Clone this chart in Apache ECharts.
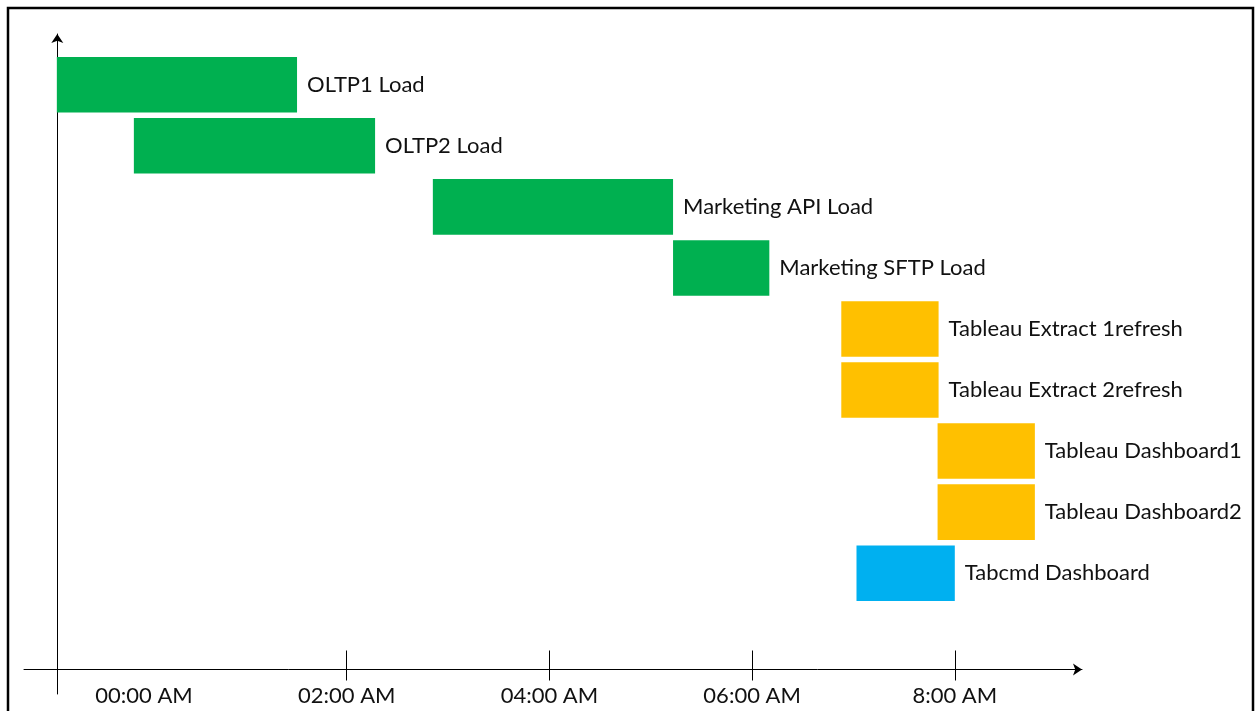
<!DOCTYPE html>
<html>
<head>
<meta charset="utf-8">
<script src="https://cdn.jsdelivr.net/npm/echarts@6/dist/echarts.min.js"></script>
<style>
    html, body { margin: 0; padding: 0; background: #fff; }
    #chart { width: 1258px; height: 711px; }
</style>
</head>
<body>
<div id="chart"></div>
<script>
// task names, top to bottom
var tasks = ['OLTP1 Load', 'OLTP2 Load', 'Marketing API Load', 'Marketing SFTP Load',
    'Tableau Extract 1refresh', 'Tableau Extract 2refresh', 'Tableau Dashboard1',
    'Tableau Dashboard2', 'Tabcmd Dashboard'];
// start / end in hours after midnight
var startHours = [-0.86, -0.10, 2.85, 5.22, 6.88, 6.88, 7.83, 7.83, 7.03];
var endHours = [1.51, 2.28, 5.22, 6.17, 7.84, 7.84, 8.79, 8.79, 8.00];
var groups = ['load', 'load', 'load', 'load', 'refresh', 'refresh', 'refresh', 'refresh', 'tabcmd'];
// axis
var tickHours = [2, 4, 6, 8];
var labelHours = [0, 2, 4, 6, 8];
var timeLabels = ['00:00 AM', '02:00 AM', '04:00 AM', '06:00 AM', '8:00 AM'];

var groupColors = {
    load: '#00b050',
    refresh: '#ffc000',
    tabcmd: '#00b0f0'
};

var data = [];
for (var i = 0; i < tasks.length; i++) {
    data.push({
        value: [startHours[i], endHours[i], i],
        itemStyle: { color: groupColors[groups[i]] }
    });
}

function renderItem(params, api) {
    var p0 = api.coord([api.value(0), api.value(2)]);
    var p1 = api.coord([api.value(1), api.value(2)]);
    var h = api.size([0, 1])[1] * 0.91;
    return {
        type: 'group',
        children: [{
            type: 'rect',
            shape: { x: p0[0], y: p0[1] - h / 2, width: p1[0] - p0[0], height: h },
            style: { fill: api.visual('color') }
        }, {
            type: 'text',
            style: {
                text: tasks[params.dataIndex],
                x: p1[0] + 10,
                y: p1[1],
                align: 'left',
                verticalAlign: 'middle',
                fill: '#111',
                font: '22px Lato'
            }
        }]
    };
}

var myChart = echarts.init(document.getElementById('chart'));
var option = {
    backgroundColor: '#fff',
    animation: false,
    graphic: [{
        type: 'rect',
        shape: { x: 8, y: 8, width: 1245, height: 760 },
        style: { fill: 'none', stroke: '#000', lineWidth: 2.5 },
        silent: true
    }],
    grid: {
        left: 24,
        right: 176,
        top: 34,
        bottom: 17
    },
    xAxis: [{
        type: 'value',
        position: 'bottom',
        min: -1.184,
        max: 9.255,
        offset: -24.5,
        splitLine: { show: false },
        axisLine: {
            show: true,
            onZero: false,
            symbol: ['none', 'arrow'],
            symbolSize: [9, 9],
            lineStyle: { color: '#000', width: 1 }
        },
        axisTick: {
            show: true,
            customValues: tickHours,
            length: 11,
            lineStyle: { color: '#000', width: 1 }
        },
        axisLabel: {
            customValues: labelHours,
            margin: 15,
            color: '#111',
            fontFamily: 'Lato',
            fontSize: 22,
            formatter: function (value) {
                var idx = labelHours.indexOf(value);
                return idx >= 0 ? timeLabels[idx] : '';
            }
        }
    }, {
        // upper half of the ticks, they cross the axis line
        type: 'value',
        position: 'bottom',
        min: -1.184,
        max: 9.255,
        offset: -24.5,
        splitLine: { show: false },
        axisLine: { show: false, onZero: false },
        axisTick: {
            show: true,
            inside: true,
            customValues: tickHours,
            length: 19,
            lineStyle: { color: '#000', width: 1 }
        },
        axisLabel: { show: false }
    }],
    yAxis: {
        type: 'value',
        inverse: true,
        min: -0.832,
        max: 9.979,
        offset: -33.3,
        splitLine: { show: false },
        axisTick: { show: false },
        axisLabel: { show: false },
        axisLine: {
            show: true,
            onZero: false,
            symbol: ['none', 'arrow'],
            symbolSize: [9, 9],
            lineStyle: { color: '#000', width: 1 }
        }
    },
    series: [{
        type: 'custom',
        renderItem: renderItem,
        encode: { x: [0, 1], y: 2 },
        data: data
    }]
};
myChart.setOption(option);
window.onresize = myChart.resize;
</script>
</body>
</html>
